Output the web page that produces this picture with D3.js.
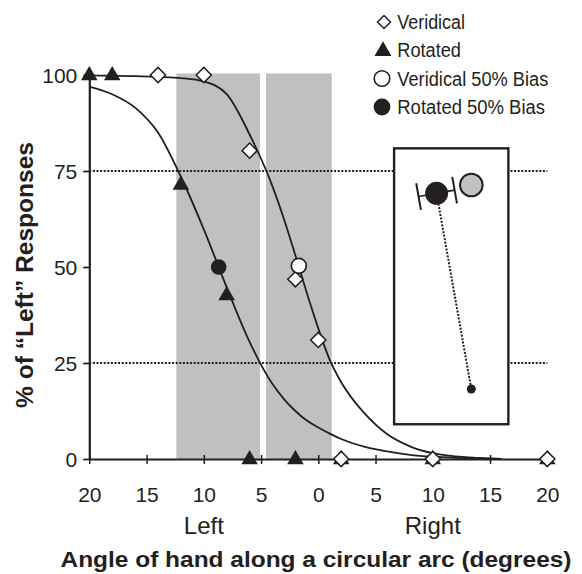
<!DOCTYPE html>
<html><head><meta charset="utf-8">
<script src="https://cdn.jsdelivr.net/npm/d3@7"></script>
<style>body{margin:0;background:#fff}svg{display:block}</style>
</head><body>
<svg id="chart" width="582" height="574"></svg>
<script>
// ---------- data ----------
const xTicks = [-20, -15, -10, -5, 0, 5, 10, 15, 20];
const yTicks = [0, 25, 50, 75, 100];
const refLines = [25, 75];
const sideLabels = ["Left", "Right"];
const sideLabelAt = [-10, 10];

const veridicalX = [-14, -10, -6, -2, 0, 2, 10, 20];
const veridicalY = [100, 100, 80.3, 46.8, 31, 0, 0, 0];
const rotatedX = [-20, -18, -12, -8, -6, -2, 2, 10, 20];
const rotatedY = [100, 100, 71.5, 42.7, 0, 0, 0, 0, 0];
const biasVeridical = [-1.7, 50.3];
const biasRotated = [-8.7, 50];

const bandStart = [-12.4, -4.57];
const bandEnd = [-5.1, 1.17];
const bandTop = 100.4;

const fitX = [-20, -18, -16, -14, -12, -10, -8, -6, -4, -3, -2, -1, 0, 1, 2, 3, 4, 6, 8, 10, 12, 14, 16];
const fitVeridical = [99.9, 99.8, 99.7, 99.5, 99.2, 98.3, 95, 84.5, 71, 62.5, 53, 43.2, 34, 25.8, 20, 15.6, 12, 6.5, 3.3, 1.5, 0.7, 0.3, 0];
const fitRotated = [97, 95, 91.5, 85, 73.5, 59.8, 44.7, 30.5, 19.5, 15.6, 12.5, 10.0, 8.2, 6.6, 5.2, 4.1, 3.2, 2.0, 1.1, 0.6, 0.3, 0.1, 0];

const legendLabels = ["Veridical", "Rotated", "Veridical 50% Bias", "Rotated 50% Bias"];
const legendWidths = [67.7, 63.7, 151, 147.7];

const yTitle = "% of \u201CLeft\u201D Responses";
const xTitle = "Angle of hand along a circular arc (degrees)";

// ---------- layout ----------
const FONT = "'Liberation Sans', Arial, Helvetica, sans-serif";
const INK = "#231f20";
const svg = d3.select("#chart");
const x = d3.scaleLinear().domain([-20, 20]).range([89.3, 547.3]);
const y = d3.scaleLinear().domain([0, 100]).range([459, 75]);

// grey bands
svg.append("g").selectAll("rect").data(bandStart).join("rect")
  .attr("x", (d) => x(d))
  .attr("width", (d, i) => x(bandEnd[i]) - x(d))
  .attr("y", y(bandTop))
  .attr("height", y(0) - y(bandTop))
  .attr("fill", "#bfc0c2");

// dotted reference lines
svg.append("g").selectAll("line").data(refLines).join("line")
  .attr("x1", x(-20)).attr("x2", x(20))
  .attr("y1", (d) => y(d)).attr("y2", (d) => y(d))
  .attr("stroke", INK).attr("stroke-width", 2)
  .attr("stroke-dasharray", "2,1.6");

// fitted curves
const line = d3.line().x((d) => x(d[0])).y((d) => y(d[1])).curve(d3.curveMonotoneX);
[fitVeridical, fitRotated].forEach((vals) => {
  svg.append("path")
    .datum(fitX.map((v, i) => [v, vals[i]]))
    .attr("d", line)
    .attr("fill", "none").attr("stroke", INK).attr("stroke-width", 1.8);
});

// axes
const xAxis = svg.append("g").attr("transform", `translate(0,${y(0)})`)
  .call(d3.axisBottom(x).tickValues(xTicks).tickFormat((d) => Math.abs(d)).tickSizeOuter(0));
xAxis.select(".domain").attr("stroke", INK).attr("stroke-width", 2.2);
xAxis.selectAll(".tick line").attr("y1", -4).attr("y2", 5).attr("stroke", INK).attr("stroke-width", 1.5);
xAxis.selectAll(".tick text").attr("y", 42.5).attr("dy", null)
  .attr("font-family", FONT).attr("font-size", 21).attr("fill", INK);

const yAxis = svg.append("g").attr("transform", `translate(${x(-20)},0)`)
  .call(d3.axisLeft(y).tickValues(yTicks).tickSize(6).tickSizeOuter(0));
yAxis.select(".domain").attr("stroke", INK).attr("stroke-width", 2.2);
yAxis.selectAll(".tick line").attr("stroke", INK).attr("stroke-width", 1.8);
yAxis.selectAll(".tick text").attr("x", -12).attr("dy", "0.36em")
  .attr("font-family", FONT).attr("font-size", 21).attr("fill", INK);

// Left / Right labels
svg.append("g").selectAll("text").data(sideLabels).join("text")
  .attr("x", (d, i) => x(sideLabelAt[i])).attr("y", 534)
  .attr("text-anchor", "middle")
  .attr("font-family", FONT).attr("font-size", 24).attr("fill", INK)
  .text((d) => d);

// axis titles
svg.append("text")
  .attr("x", 316).attr("y", 566.5).attr("text-anchor", "middle")
  .attr("font-family", FONT).attr("font-size", 21.5).attr("font-weight", "bold").attr("fill", INK)
  .attr("textLength", 511).attr("lengthAdjust", "spacingAndGlyphs")
  .text(xTitle);
svg.append("text")
  .attr("transform", `translate(33,${275}) rotate(-90)`)
  .attr("text-anchor", "middle")
  .attr("font-family", FONT).attr("font-size", 23.5).attr("font-weight", "bold").attr("fill", INK)
  .attr("textLength", 266).attr("lengthAdjust", "spacingAndGlyphs")
  .text(yTitle);

// markers
const tri = d3.symbol().type(d3.symbolTriangle).size(118);
const dia = (s) => `M0,${-s}L${s},0L0,${s}L${-s},0Z`;

svg.append("g").selectAll("path").data(rotatedX).join("path")
  .attr("transform", (d, i) => `translate(${x(d)},${y(rotatedY[i]) + 0.5})`)
  .attr("d", tri).attr("fill", INK);

svg.append("g").selectAll("path").data(veridicalX).join("path")
  .attr("transform", (d, i) => `translate(${x(d)},${y(veridicalY[i])})`)
  .attr("d", dia(7.6)).attr("fill", "#fff").attr("stroke", INK).attr("stroke-width", 1.5);

svg.append("circle").attr("cx", x(biasRotated[0])).attr("cy", y(biasRotated[1]))
  .attr("r", 7.8).attr("fill", INK);
svg.append("circle").attr("cx", x(biasVeridical[0])).attr("cy", y(biasVeridical[1]))
  .attr("r", 7.5).attr("fill", "#fff").attr("stroke", INK).attr("stroke-width", 1.6);

// legend
const legRowY = [22, 50, 78.5, 107];
const legX = 384;
const leg = svg.append("g");
leg.append("path").attr("transform", `translate(${legX},${legRowY[0]})`)
  .attr("d", dia(6.5)).attr("fill", "#fff").attr("stroke", INK).attr("stroke-width", 1.5);
leg.append("path").attr("transform", `translate(${legX - 1},${legRowY[1] + 1})`)
  .attr("d", d3.symbol().type(d3.symbolTriangle).size(125)).attr("fill", INK);
leg.append("circle").attr("cx", legX - 2).attr("cy", legRowY[2]).attr("r", 7.8)
  .attr("fill", "#fff").attr("stroke", INK).attr("stroke-width", 1.6);
leg.append("circle").attr("cx", legX - 2).attr("cy", legRowY[3]).attr("r", 8.4).attr("fill", INK);
leg.selectAll("text").data(legendLabels).join("text")
  .attr("x", 397.3).attr("y", (d, i) => legRowY[i] + 7.3)
  .attr("font-family", FONT).attr("font-size", 20).attr("fill", INK)
  .attr("textLength", (d, i) => legendWidths[i]).attr("lengthAdjust", "spacingAndGlyphs")
  .text((d) => d);

// inset schematic
const bx = x(6.62), by = y(80.9);
const bw = x(16.6) - bx, bh = y(9.05) - by;
const inset = svg.append("g").attr("transform", `translate(${bx},${by})`);
inset.append("rect").attr("width", bw).attr("height", bh)
  .attr("fill", "#fff").attr("stroke", INK).attr("stroke-width", 2.4);
const c1 = [42.5, 45], c2 = [77.2, 36.7], c3 = [77.2, 240.7];
const dx = c3[0] - c1[0], dy = c3[1] - c1[1], L = Math.hypot(dx, dy);
const u = [dx / L, dy / L], p = [dy / L, -dx / L];
inset.append("line")
  .attr("x1", c1[0]).attr("y1", c1[1]).attr("x2", c3[0]).attr("y2", c3[1])
  .attr("stroke", INK).attr("stroke-width", 2).attr("stroke-dasharray", "2,1.5");
inset.append("circle").attr("cx", c3[0]).attr("cy", c3[1]).attr("r", 4.5).attr("fill", INK);
const capL = [c1[0] - 18.3 * p[0], c1[1] - 18.3 * p[1]];
const capR = [c1[0] + 18.3 * p[0], c1[1] + 18.3 * p[1]];
inset.append("line").attr("x1", capL[0]).attr("y1", capL[1]).attr("x2", capR[0]).attr("y2", capR[1])
  .attr("stroke", INK).attr("stroke-width", 1.6);
[capL, capR].forEach((c) => {
  inset.append("line")
    .attr("x1", c[0] - 13.5 * u[0]).attr("y1", c[1] - 13.5 * u[1])
    .attr("x2", c[0] + 13.5 * u[0]).attr("y2", c[1] + 13.5 * u[1])
    .attr("stroke", INK).attr("stroke-width", 2);
});
inset.append("circle").attr("cx", c1[0]).attr("cy", c1[1]).attr("r", 11.5).attr("fill", INK);
inset.append("circle").attr("cx", c2[0]).attr("cy", c2[1]).attr("r", 11.3)
  .attr("fill", "#c0c1c3").attr("stroke", INK).attr("stroke-width", 2);
</script>
</body></html>
